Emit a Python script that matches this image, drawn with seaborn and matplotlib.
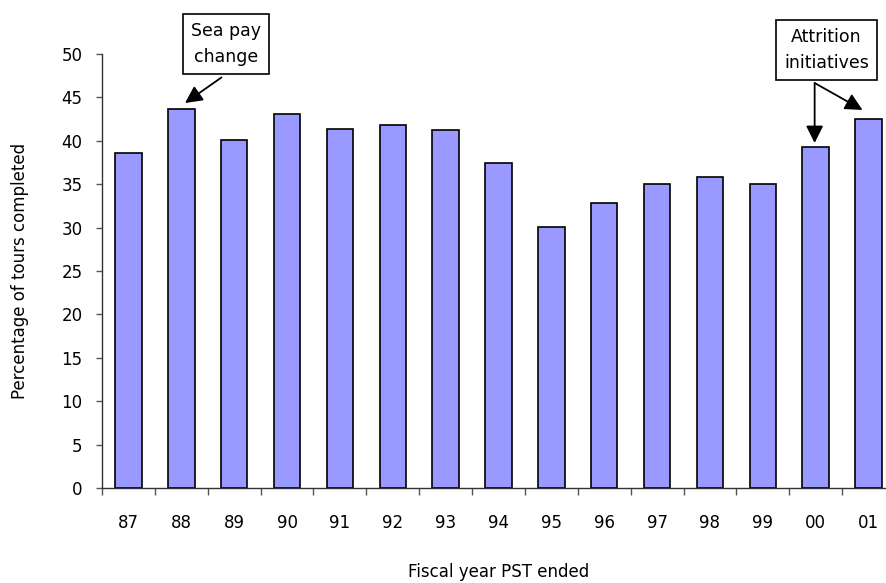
import matplotlib
matplotlib.use("Agg")
import matplotlib.pyplot as plt
import seaborn as sns
import pandas as pd
import numpy as np

# Share of sea tours completed, by fiscal year
years = ["87", "88", "89", "90", "91", "92", "93", "94",
         "95", "96", "97", "98", "99", "00", "01"]
pct_completed = [38.6, 43.7, 40.1, 43.1, 41.4, 41.8, 41.2, 37.5,
                 30.1, 32.8, 35.0, 35.8, 35.0, 39.3, 42.5]
y_ticks = [0, 5, 10, 15, 20, 25, 30, 35, 40, 45, 50]

df = pd.DataFrame({"year": years, "pct": pct_completed})

sns.set_style("white")
plt.rcParams["font.family"] = ["DejaVu Sans"]
plt.rcParams["font.size"] = 12
for key in ["text.color", "axes.labelcolor", "xtick.color", "ytick.color"]:
    plt.rcParams[key] = "black"

fig = plt.figure(figsize=(8.87, 5.83), dpi=100)
ax = fig.add_axes([102 / 887, 95 / 583, 793 / 887, 434 / 583])

sns.barplot(data=df, x="year", y="pct", order=years, color="#9999FF",
            saturation=1, width=0.5, edgecolor="black", linewidth=1.2, ax=ax)

ax.set_xlim(-0.5, len(years) - 0.5)
ax.set_ylim(0, 50)
ax.set_yticks(y_ticks)
ax.set_yticklabels([str(v) for v in y_ticks])

# category boundaries carry the tick marks, centres carry the labels
n = len(years)
ax.set_xticks(np.arange(n) - 0.5)
ax.set_xticklabels([""] * n)
ax.set_xticks(np.arange(n), minor=True)
ax.set_xticklabels(years, minor=True)
ax.tick_params(axis="x", which="major", direction="out", length=5, width=1,
               color="#555555", bottom=True)
ax.tick_params(axis="x", which="minor", length=0, pad=18.5, labelsize=12)
ax.tick_params(axis="y", direction="out", length=4, width=1, color="#555555",
               left=True, pad=10, labelsize=12)

for side in ["top", "right"]:
    ax.spines[side].set_visible(False)
for side in ["left", "bottom"]:
    ax.spines[side].set_color("#333333")
    ax.spines[side].set_linewidth(1)

ax.set_xlabel("Fiscal year PST ended", fontsize=12)
ax.set_ylabel("Percentage of tours completed", fontsize=12)
ax.xaxis.set_label_coords(0.5, -84 / 434)
ax.xaxis.label.set_va("center")
ax.yaxis.set_label_coords(-82 / 793, 0.5)
ax.yaxis.label.set_va("center")

box = dict(boxstyle="square,pad=0.45", fc="white", ec="black", lw=1.2)
arrow = dict(arrowstyle="-|>", color="black", lw=1.3, mutation_scale=26,
             shrinkA=0, shrinkB=0)

ax.text(1.844, 51.15, "Sea pay\nchange", ha="center", va="center",
        fontsize=12.5, linespacing=1.6, bbox=box, clip_on=False, zorder=5)
ax.annotate("", xy=(1.07, 44.35), xytext=(1.76, 47.3),
            arrowprops=arrow, annotation_clip=False, zorder=5)

ax.text(13.205, 50.46, "Attrition\ninitiatives", ha="center", va="center",
        fontsize=12.5, linespacing=1.6, bbox=box, clip_on=False, zorder=5)
ax.annotate("", xy=(12.98, 39.75), xytext=(12.98, 46.66),
            arrowprops=arrow, annotation_clip=False, zorder=5)
ax.annotate("", xy=(13.886, 43.55), xytext=(12.98, 46.66),
            arrowprops=arrow, annotation_clip=False, zorder=5)

fig.savefig("out.png", dpi=100)
